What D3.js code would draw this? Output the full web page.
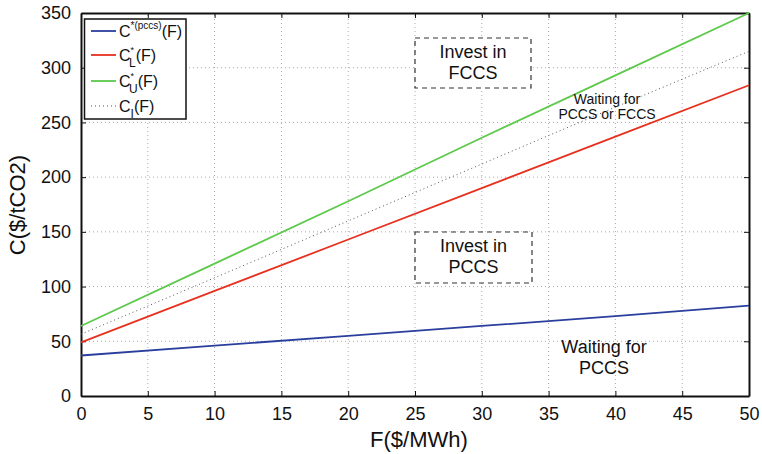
<!DOCTYPE html>
<html><head><meta charset="utf-8">
<script src="https://cdn.jsdelivr.net/npm/d3@7"></script>
<style>body{margin:0;background:#fff}svg{display:block;font-family:"Liberation Sans",Arial,Helvetica,sans-serif}</style>
</head><body>
<script>
const fuelPrice = [0, 10, 20, 30, 40, 50];
const cPccs = [37, 46, 55, 64, 73, 82.5];
const cL = [49, 96, 143, 190, 237, 284];
const cU = [64, 121, 178, 236, 293, 350];
const cI = [56.5, 108, 160, 212, 264, 315];
const xTicks = [0,5,10,15,20,25,30,35,40,45,50];
const yTicks = [0,50,100,150,200,250,300,350];

const W = 762, H = 454;
const m = {l:81, r:12, t:13, b:58};
const svg = d3.select("body").append("svg").attr("width", W).attr("height", H);
const x = d3.scaleLinear().domain([0,50]).range([m.l, 749]);
const y = d3.scaleLinear().domain([0,350]).range([396, m.t]);

// grid
const g = svg.append("g");
g.selectAll("line.vx").data(xTicks.slice(1,-1)).join("line")
  .attr("x1", d=>x(d)).attr("x2", d=>x(d)).attr("y1", y(0)).attr("y2", y(350))
  .attr("stroke", "#aaa").attr("stroke-width", 1).attr("stroke-dasharray", "1,3");
g.selectAll("line.hy").data(yTicks.slice(1,-1)).join("line")
  .attr("x1", x(0)).attr("x2", x(50)).attr("y1", d=>y(d)).attr("y2", d=>y(d))
  .attr("stroke", "#aaa").attr("stroke-width", 1).attr("stroke-dasharray", "1,3");

// axes
const ax = svg.append("g").attr("transform", `translate(0,${y(0)})`)
  .call(d3.axisBottom(x).tickValues(xTicks).tickSizeInner(-5).tickSizeOuter(0).tickPadding(10));
const axT = svg.append("g").attr("transform", `translate(0,${y(350)})`)
  .call(d3.axisTop(x).tickValues(xTicks).tickSizeInner(-5).tickSizeOuter(0).tickFormat(""));
const ay = svg.append("g").attr("transform", `translate(${x(0)},0)`)
  .call(d3.axisLeft(y).tickValues(yTicks).tickSizeInner(-5).tickSizeOuter(0).tickPadding(10));
const ayR = svg.append("g").attr("transform", `translate(${x(50)},0)`)
  .call(d3.axisRight(y).tickValues(yTicks).tickSizeInner(-5).tickSizeOuter(0).tickFormat(""));
[ax, axT, ay, ayR].forEach(a => {
  a.select(".domain").attr("stroke", "#111").attr("stroke-width", 2);
  a.selectAll(".tick line").attr("stroke", "#111").attr("stroke-width", 1);
  a.selectAll("text").attr("font-size", 18).attr("fill", "#111").attr("font-family", "Liberation Sans, Arial, sans-serif");
});
ax.selectAll("text").attr("dy", "0.8em");

// lines
const lineGen = d3.line().x((d,i)=>x(fuelPrice[i])).y(d=>y(d));
svg.append("path").datum(cI).attr("d", lineGen).attr("fill","none").attr("stroke","#555").attr("stroke-width",1).attr("stroke-dasharray","1,3");
svg.append("path").datum(cU).attr("d", lineGen).attr("fill","none").attr("stroke","#5cc94a").attr("stroke-width",1.8);
svg.append("path").datum(cL).attr("d", lineGen).attr("fill","none").attr("stroke","#e8301e").attr("stroke-width",1.8);
svg.append("path").datum(cPccs).attr("d", lineGen).attr("fill","none").attr("stroke","#2a3f9d").attr("stroke-width",1.8);

// axis labels
svg.append("text").attr("x", 419).attr("y", 447).attr("text-anchor","middle").attr("font-size",22).attr("fill","#111").text("F($/MWh)");
svg.append("text").attr("transform","translate(25,205) rotate(-90)").attr("text-anchor","middle").attr("font-size",22).attr("fill","#111").text("C($/tCO2)");

// annotation boxes
function box(x0, y0, x1, y1, lines, cy) {
  svg.append("rect").attr("x",x0).attr("y",y0).attr("width",x1-x0).attr("height",y1-y0)
    .attr("fill","#fff").attr("stroke","#333").attr("stroke-width",1.2).attr("stroke-dasharray","5,4");
  lines.forEach((t,i)=>svg.append("text").attr("x",(x0+x1)/2).attr("y",cy[i]).attr("text-anchor","middle")
    .attr("font-size",18).attr("fill","#111").text(t));
}
box(415, 38, 531, 88, ["Invest in","FCCS"], [58, 79]);
box(415, 232, 532, 283, ["Invest in","PCCS"], [252, 273]);

function label(cx, ys, lines, fs) {
  lines.forEach((t,i)=>svg.append("text").attr("x",cx).attr("y",ys[i]).attr("text-anchor","middle")
    .attr("font-size",fs).attr("fill","#111").text(t));
}
label(607, [104, 119], ["Waiting for","PCCS or FCCS"], 14);
label(604, [353, 374], ["Waiting for","PCCS"], 18);

// legend
const lg = svg.append("g");
lg.append("rect").attr("x",84.5).attr("y",19).attr("width",101.5).attr("height",100)
  .attr("fill","#fff").attr("stroke","#111").attr("stroke-width",1.5);
const legItems = [
  {c:"#2a3f9d", dash:null, sup:"*(pccs)", sub:null, y:31},
  {c:"#e8301e", dash:null, sup:"*", sub:"L", y:55},
  {c:"#5cc94a", dash:null, sup:"*", sub:"U", y:81},
  {c:"#555", dash:"1,3", sup:null, sub:"I", y:106},
];
legItems.forEach(it => {
  lg.append("line").attr("x1",91).attr("x2",116).attr("y1",it.y).attr("y2",it.y)
    .attr("stroke",it.c).attr("stroke-width", it.dash?1:1.8).attr("stroke-dasharray", it.dash);
  const t = lg.append("text").attr("x",119).attr("y",it.y+6).attr("font-size",16).attr("fill","#111");
  t.append("tspan").text("C");
  if (it.sup && it.sub) {
    t.append("tspan").attr("font-size",9).attr("dy",-8).text(it.sup);
    t.append("tspan").attr("font-size",12).attr("dx",-5).attr("dy",14).text(it.sub);
    t.append("tspan").attr("dy",-6).text("(F)");
  } else if (it.sup) {
    t.append("tspan").attr("font-size",10).attr("dy",-8).text(it.sup);
    t.append("tspan").attr("dy",8).text("(F)");
  } else {
    t.append("tspan").attr("font-size",12).attr("dy",6).text(it.sub);
    t.append("tspan").attr("dy",-6).text("(F)");
  }
});
</script>
</body></html>
